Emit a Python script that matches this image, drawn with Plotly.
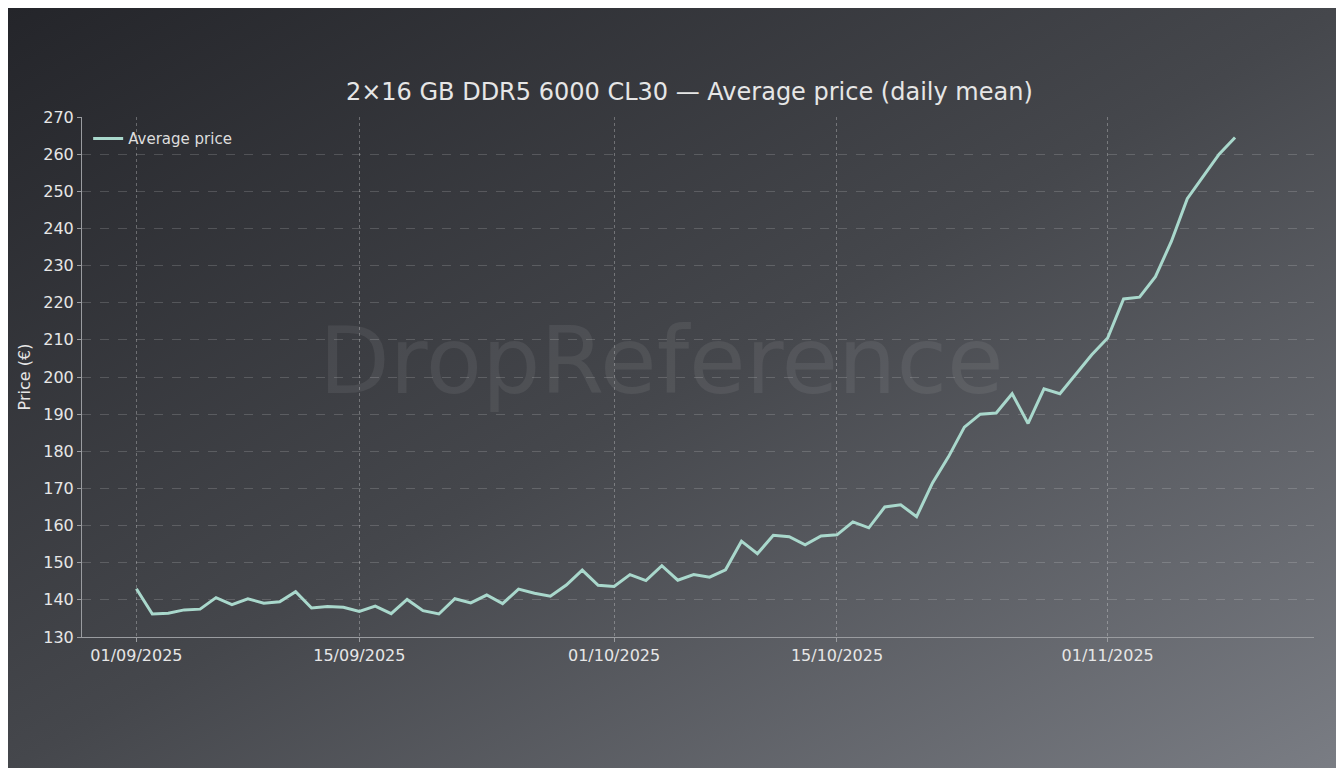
import base64
import pandas as pd
import plotly.graph_objects as go

dates = pd.date_range("2025-09-01", periods=70, freq="D")
avg_price = [
    143.0, 136.2, 136.4, 137.3, 137.5, 140.6, 138.7, 140.3, 139.1, 139.5,
    142.2, 137.8, 138.2, 138.0, 136.9, 138.3, 136.3, 140.1, 137.1, 136.2,
    140.3, 139.2, 141.3, 139.0, 142.9, 141.8, 141.0, 144.0, 148.0, 143.9,
    143.6, 146.8, 145.2, 149.2, 145.3, 146.8, 146.1, 148.1, 155.8, 152.4,
    157.4, 157.0, 154.8, 157.2, 157.5, 161.0, 159.4, 165.0, 165.6, 162.4,
    171.5, 178.5, 186.5, 190.0, 190.3, 195.5, 187.5, 196.8, 195.5, 200.6,
    206.0, 210.5, 221.0, 221.5, 227.0, 236.5, 248.0, 254.0, 260.0, 264.5,
]
tick_dates = ["2025-09-01", "2025-09-15", "2025-10-01", "2025-10-15", "2025-11-01"]
tick_labels = ["01/09/2025", "15/09/2025", "01/10/2025", "15/10/2025", "01/11/2025"]

W, H = 1336, 760
L, T, PW, PH = 74, 109, 1232, 520

# gradient background as inline svg
svg = (
    f'<svg xmlns="http://www.w3.org/2000/svg" width="{W}" height="{H}">'
    '<defs><linearGradient id="g" x1="0" y1="0" x2="1" y2="1">'
    '<stop offset="0" stop-color="#24252a"/><stop offset="0.5" stop-color="#45474c"/>'
    '<stop offset="1" stop-color="#7a7d84"/></linearGradient></defs>'
    f'<rect width="{W}" height="{H}" fill="url(#g)"/></svg>'
)
bg = "data:image/svg+xml;base64," + base64.b64encode(svg.encode()).decode()

fig = go.Figure()
fig.add_trace(go.Scatter(
    x=dates, y=avg_price, mode="lines", name="Average price",
    line=dict(color="#a9d8cc", width=3),
))

fig.update_layout(
    width=W, height=H,
    margin=dict(l=L, r=W - L - PW, t=T, b=H - T - PH),
    paper_bgcolor="#3a3b40", plot_bgcolor="rgba(0,0,0,0)",
    font=dict(family="DejaVu Sans", color="#e6e6e6"),
    title=dict(text="2×16 GB DDR5 6000 CL30 — Average price (daily mean)",
               x=0.51, xanchor="center", y=1 - 84 / H, yanchor="middle",
               font=dict(size=24, color="#e6e6e6")),
    showlegend=True,
    legend=dict(x=0.005, y=0.99, xanchor="left", yanchor="top",
                bgcolor="rgba(0,0,0,0)", font=dict(size=15, color="#dddddd")),
    images=[dict(source=bg, xref="paper", yref="paper", x=-L / PW, y=1 + T / PH,
                 sizex=W / PW, sizey=H / PH, sizing="stretch",
                 xanchor="left", yanchor="top", layer="below")],
    annotations=[dict(text="DropReference", x=0.47, y=0.53, xref="paper", yref="paper",
                      showarrow=False, font=dict(size=92, color="rgba(255,255,255,0.07)"))],
)
fig.update_xaxes(
    range=["2025-08-28 14:00", "2025-11-13 23:00"],
    tickvals=tick_dates, ticktext=tick_labels, tickfont=dict(size=16),
    showgrid=True, gridcolor="rgba(255,255,255,0.28)", griddash="dot", gridwidth=1,
    showline=True, linecolor="#9a9ca0", ticks="outside", tickcolor="#9a9ca0", ticklen=4,
    zeroline=False,
)
fig.update_yaxes(
    range=[130, 270], dtick=10, tickfont=dict(size=16),
    title=dict(text="Price (€)", font=dict(size=16), standoff=8),
    showgrid=True, gridcolor="rgba(255,255,255,0.16)", griddash="dash", gridwidth=1,
    showline=True, linecolor="#9a9ca0", ticks="outside", tickcolor="#9a9ca0", ticklen=4,
    zeroline=False,
)
fig.write_html("out.html")
